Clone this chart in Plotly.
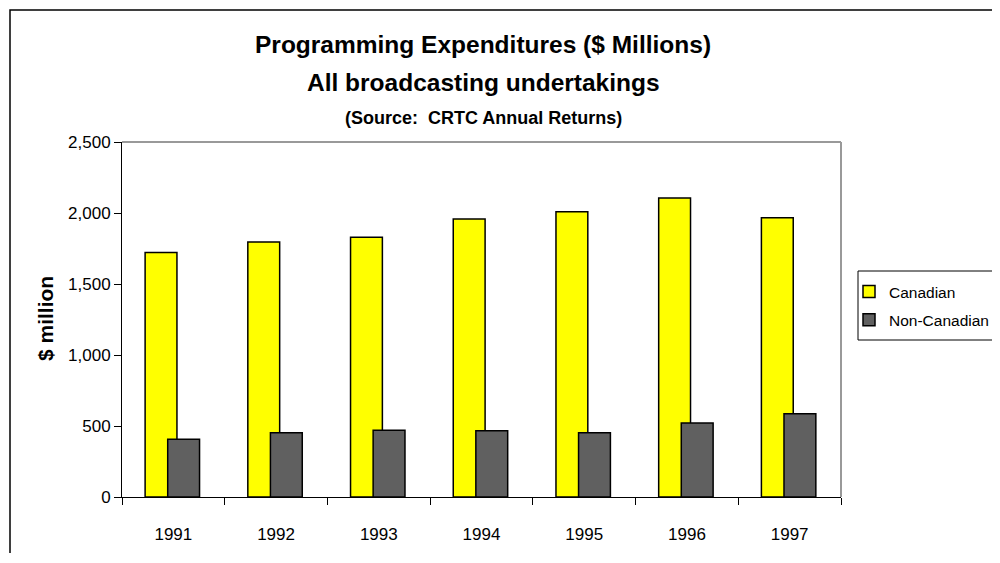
import plotly.graph_objects as go

years = ["1991", "1992", "1993", "1994", "1995", "1996", "1997"]
canadian = [1722, 1795, 1830, 1958, 2008, 2106, 1966]
non_canadian = [406, 453, 470, 467, 453, 521, 587]
y_ticks = [0, 500, 1000, 1500, 2000, 2500]
y_tick_text = ["0", "500", "1,000", "1,500", "2,000", "2,500"]

# page offset (body margin) and figure size that fits in the page
OX, OY = 8, 8
FW, FH = 984, 545
L, R, T, B = 122, 841, 142, 497  # target plot area in page pixels

def px_x(p):
    return (p - L) / (R - L)

def px_y(p):
    return (B - p) / (B - T)

FONT = "Liberation Sans, Arial, sans-serif"

fig = go.Figure()
fig.add_trace(go.Bar(
    name="Canadian", x=years, y=canadian, legendgroup="c",
    offset=-0.275, width=0.31,
    marker=dict(color="#FFFF00", line=dict(color="#000000", width=1.5)),
))
fig.add_trace(go.Bar(
    name="Non-Canadian", x=years, y=non_canadian, legendgroup="n",
    offset=-0.055, width=0.31,
    marker=dict(color="#606060", line=dict(color="#000000", width=1.5)),
))

fig.update_layout(
    width=FW, height=FH, autosize=False,
    margin=dict(l=L - OX, r=FW - (R - OX), t=T - OY, b=FH - (B - OY), pad=0,
                autoexpand=False),
    paper_bgcolor="white", plot_bgcolor="white",
    barmode="overlay",
    font=dict(family=FONT, size=17, color="#000000"),
    showlegend=True,
    legend=dict(
        x=px_x(849), y=px_y(275), xanchor="left", yanchor="top",
        bgcolor="rgba(0,0,0,0)", borderwidth=0,
        font=dict(family=FONT, size=15.5, color="#000000"),
        itemwidth=30, tracegroupgap=5,
    ),
    xaxis=dict(
        type="category", range=[-0.5, 6.5],
        showline=True, linecolor="#000000", linewidth=1,
        ticks="outside", tickson="boundaries", ticklen=7, tickcolor="#000000",
        ticklabelstandoff=22,
        showgrid=False, zeroline=False,
        tickfont=dict(family=FONT, size=17, color="#000000"),
    ),
    yaxis=dict(
        range=[0, 2500], tickvals=y_ticks, ticktext=y_tick_text,
        showline=True, linecolor="#000000", linewidth=1,
        ticks="outside", ticklen=7, tickcolor="#000000",
        showgrid=False, zeroline=False,
        tickfont=dict(family=FONT, size=17, color="#000000"),
    ),
    shapes=[
        dict(type="rect", xref="paper", yref="paper",
             x0=px_x(10), x1=px_x(1030), y0=px_y(590), y1=px_y(10),
             line=dict(color="#000000", width=1.5), fillcolor="rgba(0,0,0,0)"),
        dict(type="line", xref="paper", yref="paper", x0=0, x1=1, y0=1, y1=1,
             line=dict(color="#999999", width=2)),
        dict(type="line", xref="paper", yref="paper", x0=1, x1=1, y0=0, y1=1,
             line=dict(color="#999999", width=2)),
        dict(type="rect", xref="paper", yref="paper",
             x0=px_x(858), x1=px_x(1030), y0=px_y(340), y1=px_y(271),
             line=dict(color="#000000", width=1), fillcolor="rgba(0,0,0,0)"),
    ],
    annotations=[
        dict(text="<b>Programming Expenditures ($ Millions)</b>", xref="paper", yref="paper",
             x=px_x(483), y=px_y(45), xanchor="center", yanchor="middle", showarrow=False,
             font=dict(family=FONT, size=24.5, color="#000000")),
        dict(text="<b>All broadcasting undertakings</b>", xref="paper", yref="paper",
             x=px_x(483), y=px_y(82), xanchor="center", yanchor="middle", showarrow=False,
             font=dict(family=FONT, size=24.5, color="#000000")),
        dict(text="<b>(Source:  CRTC Annual Returns)</b>", xref="paper", yref="paper",
             x=px_x(483), y=px_y(118), xanchor="center", yanchor="middle", showarrow=False,
             font=dict(family=FONT, size=18, color="#000000")),
        dict(text="<b>$ million</b>", xref="paper", yref="paper",
             x=px_x(45), y=px_y(319), xanchor="center", yanchor="middle", showarrow=False,
             textangle=-90, font=dict(family=FONT, size=21, color="#000000")),
    ],
)

fig.write_html("out.html", config={"responsive": False})
